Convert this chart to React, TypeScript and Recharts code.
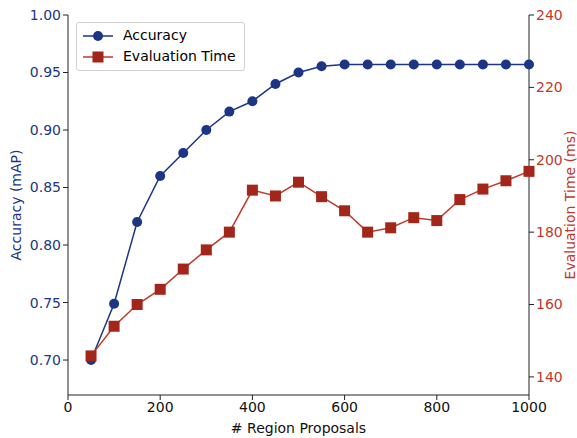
import { LineChart, Line, XAxis, YAxis } from "recharts";

const proposals = [50, 100, 150, 200, 250, 300, 350, 400, 450, 500, 550, 600, 650, 700, 750, 800, 850, 900, 950, 1000];
const accuracy = [0.70, 0.749, 0.82, 0.86, 0.88, 0.90, 0.916, 0.925, 0.94, 0.95, 0.9555, 0.957, 0.957, 0.957, 0.957, 0.957, 0.957, 0.957, 0.957, 0.957];
const evalTime = [145.8, 154, 160, 164.2, 169.8, 175.1, 180, 191.6, 190, 193.8, 189.8, 185.9, 180, 181.2, 184, 183.2, 189, 191.9, 194.2, 196.8];
const xTicks = [0, 200, 400, 600, 800, 1000];
const accTicks = [0.7, 0.75, 0.8, 0.85, 0.9, 0.95, 1.0];
const timeTicks = [140, 160, 180, 200, 220, 240];

const data = proposals.map((p, i) => ({ p, acc: accuracy[i], time: evalTime[i] }));

const BLUE = "#1c3585";
const RED_LINE = "#c0392b";
const RED_MARK = "#a3261a";
const FONT = "DejaVu Sans, sans-serif";

const Square = (props: any) => {
  const { cx, cy } = props;
  if (cx == null || cy == null) return null;
  return <rect x={cx - 5.5} y={cy - 5.5} width={11} height={11} fill={RED_MARK} />;
};

// matplotlib-style legend box, top-left inside the axes
const LegendBox = () => (
  <div
    style={{
      position: "absolute",
      left: 76,
      top: 22,
      background: "rgba(255,255,255,0.85)",
      border: "1px solid #d0d0d0",
      borderRadius: 3,
      padding: "2px 8px 3px 6px",
      fontFamily: FONT,
      fontSize: 14,
      color: "#000",
      lineHeight: "21px",
    }}
  >
    <div style={{ display: "flex", alignItems: "center" }}>
      <svg width={30} height={14} style={{ marginRight: 10 }}>
        <line x1={0} y1={7} x2={30} y2={7} stroke={BLUE} strokeWidth={1.5} />
        <circle cx={15} cy={7} r={5} fill={BLUE} />
      </svg>
      Accuracy
    </div>
    <div style={{ display: "flex", alignItems: "center" }}>
      <svg width={30} height={14} style={{ marginRight: 10 }}>
        <line x1={0} y1={7} x2={30} y2={7} stroke={RED_LINE} strokeWidth={1.5} />
        <rect x={9.5} y={1.5} width={11} height={11} fill={RED_MARK} />
      </svg>
      Evaluation Time
    </div>
  </div>
);

export default function App() {
  return (
    <div style={{ position: "absolute", left: 0, top: 0, width: 577, height: 438, background: "#fff" }}>
      <LineChart width={577} height={438} data={data} margin={{ top: 15, right: 0, bottom: 0, left: 0 }} style={{ fontFamily: FONT }}>
        <XAxis
          dataKey="p"
          type="number"
          domain={[0, 1000]}
          ticks={xTicks}
          height={43}
          tickSize={5}
          stroke="#222"
          tick={{ fill: "#111", fontSize: 14 }}
          label={{ value: "# Region Proposals", position: "insideBottom", offset: 5, fill: "#111", fontSize: 14 }}
        />
        <XAxis xAxisId="top" dataKey="p" type="number" domain={[0, 1000]} orientation="top" height={0} tick={false} tickLine={false} stroke="#222" />
        <YAxis
          yAxisId="left"
          domain={[0.6696, 1.0]}
          ticks={accTicks}
          width={68}
          tickSize={5}
          stroke="#222"
          tick={{ fill: BLUE, fontSize: 14 }}
          tickFormatter={(v: number) => v.toFixed(2)}
          label={{ value: "Accuracy (mAP)", angle: -90, position: "insideLeft", offset: 16, fill: BLUE, fontSize: 14, style: { textAnchor: "middle" } }}
        />
        <YAxis
          yAxisId="right"
          orientation="right"
          domain={[135, 240]}
          ticks={timeTicks}
          width={48}
          tickSize={5}
          stroke="#222"
          tick={{ fill: RED_LINE, fontSize: 14 }}
          label={{ value: "Evaluation Time (ms)", angle: -90, position: "insideRight", offset: 7, fill: RED_LINE, fontSize: 14, style: { textAnchor: "middle" } }}
        />
        <Line
          yAxisId="left"
          dataKey="acc"
          stroke={BLUE}
          strokeWidth={1.5}
          dot={{ r: 5, fill: BLUE, stroke: BLUE, strokeWidth: 0 }}
          isAnimationActive={false}
        />
        <Line
          yAxisId="right"
          dataKey="time"
          stroke={RED_LINE}
          strokeWidth={1.5}
          dot={<Square />}
          isAnimationActive={false}
        />
      </LineChart>
      <LegendBox />
    </div>
  );
}
